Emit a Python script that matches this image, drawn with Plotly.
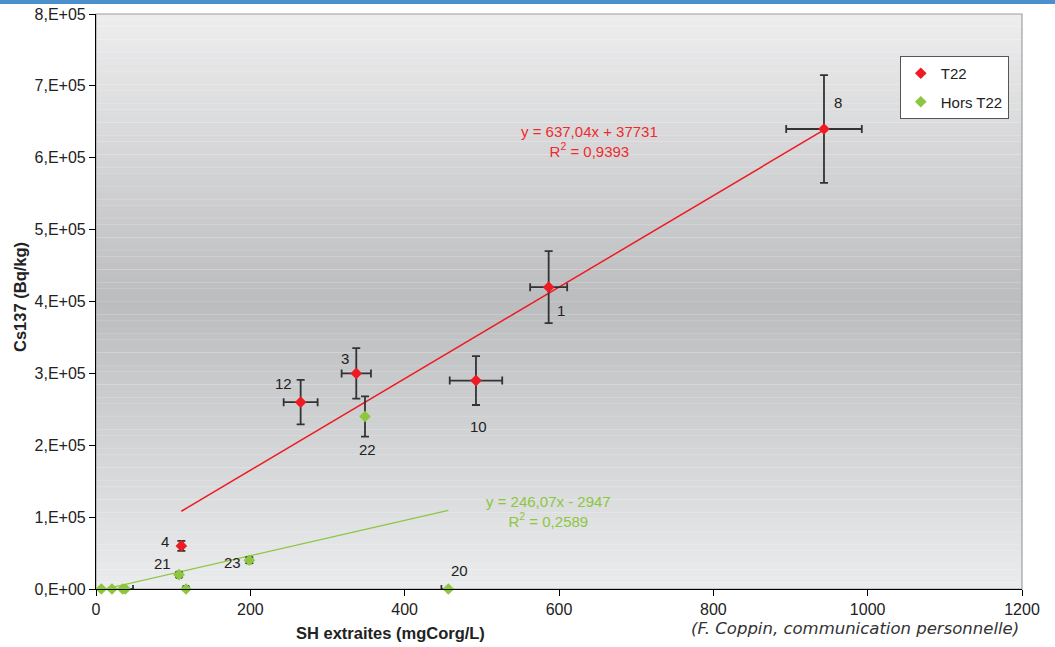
import plotly.graph_objects as go

# ---- data ----
t22_labels = ["8", "1", "3", "12", "10", "4"]
t22_x = [943.4, 586.6, 337.3, 265.2, 492.4, 110.6]
t22_y = [640000, 420000, 300000, 260000, 290000, 60000]
t22_ex = [49, 24, 19, 22, 34, 2]
t22_ey = [75000, 50000, 35000, 31000, 34000, 7000]

hors_labels = ["22", "21", "23", "20", "", "", "", "", ""]
hors_x = [348.6, 107.6, 198.7, 456.6, 6.9, 20.7, 34.6, 38.0, 116.6]
hors_y = [240000, 20000, 40000, 0, 0, 0, 0, 0, 0]
hors_ex_plus = [0, 3, 3, 0, 0, 0, 0, 10, 3]
hors_ex_minus = [0, 3, 3, 9, 0, 0, 0, 4, 3]
hors_ey = [28000, 3000, 4000, 0, 0, 0, 0, 0, 2500]

t22_slope, t22_intercept, t22_r2 = 637.04, 37731, 0.9393
hors_slope, hors_intercept, hors_r2 = 246.07, -2947, 0.2589

x_ticks = [0, 200, 400, 600, 800, 1000, 1200]
y_ticks = [0, 100000, 200000, 300000, 400000, 500000, 600000, 700000, 800000]
y_ticktext = ["0,E+00", "1,E+05", "2,E+05", "3,E+05", "4,E+05",
              "5,E+05", "6,E+05", "7,E+05", "8,E+05"]

# ---- styles ----
RED = "#ed1c24"
GREEN = "#8dc63f"
ERR = "#333333"
FONT = "Liberation Sans, Arial, sans-serif"

# label offsets in pixels (xshift, yshift)
t22_off = {"8": (14, 27), "1": (12, -23), "3": (-11, 15), "12": (-17, 19),
           "10": (3, -46), "4": (-16, 4)}
hors_off = {"22": (2, -33), "21": (-17, 11), "23": (-17, -2), "20": (11, 19)}

fig = go.Figure()

# trendlines
def trend(xs, m, b):
    x0, x1 = min(xs), max(xs)
    return [x0, x1], [m * x0 + b, m * x1 + b]

tx, ty = trend(t22_x, t22_slope, t22_intercept)
fig.add_trace(go.Scatter(x=tx, y=ty, mode="lines", line=dict(color=RED, width=1.5),
                         showlegend=False, hoverinfo="skip"))
hx, hy = trend(hors_x, hors_slope, hors_intercept)
fig.add_trace(go.Scatter(x=hx, y=hy, mode="lines", line=dict(color=GREEN, width=1.2),
                         showlegend=False, hoverinfo="skip"))

fig.add_trace(go.Scatter(
    x=t22_x, y=t22_y, mode="markers", name="T22", legendgroup="a",
    marker=dict(symbol="diamond", size=9, color=RED),
    error_x=dict(type="data", array=t22_ex, color=ERR, thickness=1.8, width=4),
    error_y=dict(type="data", array=t22_ey, color=ERR, thickness=1.8, width=4),
))
fig.add_trace(go.Scatter(
    x=hors_x, y=hors_y, mode="markers", name="Hors T22", legendgroup="b",
    marker=dict(symbol="diamond", size=9, color=GREEN),
    error_x=dict(type="data", symmetric=False, array=hors_ex_plus,
                 arrayminus=hors_ex_minus, color=ERR, thickness=1.8, width=4),
    error_y=dict(type="data", array=hors_ey, color=ERR, thickness=1.8, width=4),
    cliponaxis=False,
))

annotations = []
for lab, x, y in zip(t22_labels, t22_x, t22_y):
    dx, dy = t22_off[lab]
    annotations.append(dict(x=x, y=y, text=lab, showarrow=False, xshift=dx, yshift=dy,
                            font=dict(size=15, color="#222222", family=FONT)))
for lab, x, y in zip(hors_labels, hors_x, hors_y):
    if lab:
        dx, dy = hors_off[lab]
        annotations.append(dict(x=x, y=y, text=lab, showarrow=False, xshift=dx, yshift=dy,
                                font=dict(size=15, color="#222222", family=FONT)))

def fmt(v, nd):
    return f"{v:.{nd}f}".replace(".", ",")

annotations.append(dict(
    x=639, y=622600, showarrow=False, align="center", xanchor="center", yanchor="middle",
    text=f"y = {fmt(t22_slope, 2)}x + {t22_intercept}<br>R<sup>2</sup> = {fmt(t22_r2, 4)}",
    font=dict(size=15, color="#ee2b2b", family=FONT)))
annotations.append(dict(
    x=587, y=108500, showarrow=False, align="center", xanchor="center", yanchor="middle",
    text=f"y = {fmt(hors_slope, 2)}x - {abs(hors_intercept)}<br>R<sup>2</sup> = {fmt(hors_r2, 4)}",
    font=dict(size=15, color="#8cc63e", family=FONT)))

# axis titles & credit
annotations.append(dict(xref="paper", yref="paper", x=0.3175, y=-0.0765, showarrow=False,
                        xanchor="center", yanchor="middle",
                        text="<b>SH extraites (mgCorg/L)</b>",
                        font=dict(size=16.5, color="#222222", family=FONT)))
annotations.append(dict(xref="paper", yref="paper", x=-0.082, y=0.508, showarrow=False,
                        xanchor="center", yanchor="middle",
                        textangle=-90, text="<b>Cs137 (Bq/kg)</b>",
                        font=dict(size=16.5, color="#222222", family=FONT)))
annotations.append(dict(xref="paper", yref="paper", x=0.8197, y=-0.068, showarrow=False,
                        xanchor="center", yanchor="middle",
                        text="<i>(F. Coppin, communication personnelle)</i>",
                        font=dict(size=16.5, color="#333333", family="DejaVu Sans, sans-serif")))

# gradient background
shapes = []
N = 90
def lerp(a, b, t):
    return [a[i] + (b[i] - a[i]) * t for i in range(3)]
bot = (235, 236, 237)
mid = (188, 189, 191)
top = (238, 238, 239)
for i in range(N):
    t = (i + 0.5) / N
    if t < 0.5:
        c = lerp(bot, mid, t / 0.5)
    else:
        c = lerp(mid, top, (t - 0.5) / 0.5)
    shapes.append(dict(type="rect", xref="paper", yref="paper", layer="below",
                       x0=0, x1=1, y0=i / N, y1=(i + 1.02) / N,
                       fillcolor=f"rgb({int(c[0])},{int(c[1])},{int(c[2])})",
                       line=dict(width=0)))
shapes.append(dict(type="rect", xref="paper", yref="paper", layer="below",
                   x0=0, x1=1, y0=0, y1=1, line=dict(color="#a0a0a0", width=1.2)))
# top blue band
shapes.append(dict(type="rect", xref="paper", yref="paper", layer="above",
                   x0=-0.11, x1=1.04, y0=1.0175, y1=1.03,
                   fillcolor="#4b8fcc", line=dict(width=0)))

fig.update_layout(
    width=1055, height=647,
    margin=dict(l=96, r=33, t=14, b=58, autoexpand=False),
    paper_bgcolor="white", plot_bgcolor="rgba(0,0,0,0)",
    font=dict(family=FONT, size=15, color="#222222"),
    showlegend=True,
    legend=dict(x=0.868, y=0.927, xanchor="left", yanchor="top",
                bgcolor="white", bordercolor="#555555", borderwidth=1,
                font=dict(size=15, family=FONT, color="#222222"),
                tracegroupgap=6, itemwidth=30),
    shapes=shapes, annotations=annotations,
)
fig.update_xaxes(range=[0, 1200], tickvals=x_ticks, ticks="outside", ticklen=6,
                 tickcolor="#000", showline=True, linecolor="#000", linewidth=1.2,
                 showgrid=False, zeroline=False, tickfont=dict(size=16), automargin=False)
fig.update_yaxes(range=[0, 800000], tickvals=y_ticks, ticktext=y_ticktext,
                 ticks="outside", ticklen=6, tickcolor="#000", showline=True,
                 linecolor="#000", linewidth=1.2, showgrid=False, zeroline=False,
                 tickfont=dict(size=16), automargin=False)

fig.write_html("out.html")
